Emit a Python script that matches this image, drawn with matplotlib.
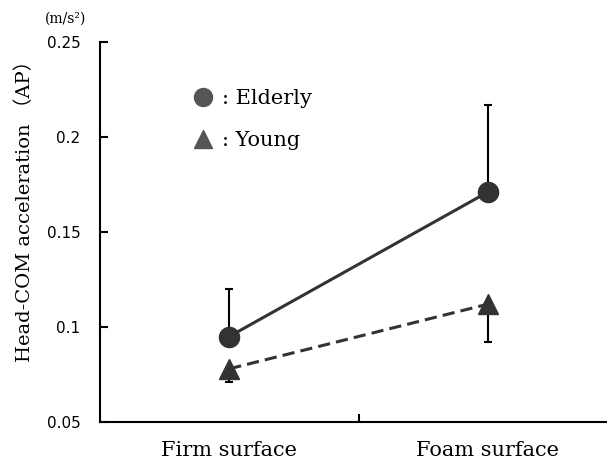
import matplotlib
matplotlib.use("Agg")
import matplotlib.pyplot as plt
from matplotlib.lines import Line2D

conditions = ["Firm surface", "Foam surface"]
elderly = [0.095, 0.171]
elderly_err = [0.025, 0.046]   # upper bars only
young = [0.078, 0.112]
young_err = [0.007, 0.020]     # lower bars only
yticks = [0.05, 0.1, 0.15, 0.2, 0.25]
ytick_labels = ["0.05", "0.1", "0.15", "0.2", "0.25"]

serif = "DejaVu Serif"
dark = "#333333"

fig = plt.figure(figsize=(6.07, 4.63), dpi=100)
ax = fig.add_axes([100 / 607, 41 / 463, 517 / 607, 380 / 463])

x = list(range(len(conditions)))
zeros = [0] * len(x)

ax.errorbar(x, elderly, yerr=[zeros, elderly_err], fmt="none",
            ecolor="black", elinewidth=1.5, capsize=3, capthick=1.5, zorder=2)
ax.errorbar(x, young, yerr=[young_err, zeros], fmt="none",
            ecolor="black", elinewidth=1.5, capsize=3, capthick=1.5, zorder=2)
ax.plot(x, elderly, color=dark, lw=2.2, marker="o", markersize=14.5, zorder=3)
ax.plot(x, young, color=dark, lw=2.2, ls=(0, (4, 2)), marker="^",
        markersize=14.5, zorder=3)

ax.set_xlim(-0.5, 1.5)
ax.set_ylim(0.05, 0.25)
ax.set_yticks(yticks)
ax.set_yticklabels(ytick_labels, fontsize=11)
ax.set_xticks([0.5])
ax.set_xticklabels([""])
ax.tick_params(axis="y", direction="in", length=6, width=1.5, pad=14)
ax.tick_params(axis="x", direction="in", length=6, width=1.5)

for s in ["top", "right"]:
    ax.spines[s].set_visible(False)
for s in ["left", "bottom"]:
    ax.spines[s].set_linewidth(1.5)

for xi, name in zip(x, conditions):
    ax.text(xi, -0.075, name, transform=ax.get_xaxis_transform(),
            ha="center", va="center", fontsize=15, family=serif)

fig.text(25 / 607, 1 - 206 / 463, "Head-COM acceleration \uff08AP\uff09",
         rotation=90, ha="center", va="center", fontsize=14,
         family=[serif, "Noto Sans CJK JP"])
fig.text(45 / 607, 1 - 19 / 463, "(m/s\u00b2)", ha="left", va="center",
         fontsize=10, family=serif)

handles = [
    Line2D([], [], ls="none", marker="o", markersize=13, color="#555555"),
    Line2D([], [], ls="none", marker="^", markersize=13, color="#555555"),
]
leg = ax.legend(handles, [": Elderly", ": Young"], loc="upper left",
                bbox_to_anchor=(0.143, 0.925), frameon=False, handlelength=1,
                handletextpad=0.4, labelspacing=1.1,
                prop={"family": serif, "size": 15})

fig.savefig("out.png", dpi=100)
